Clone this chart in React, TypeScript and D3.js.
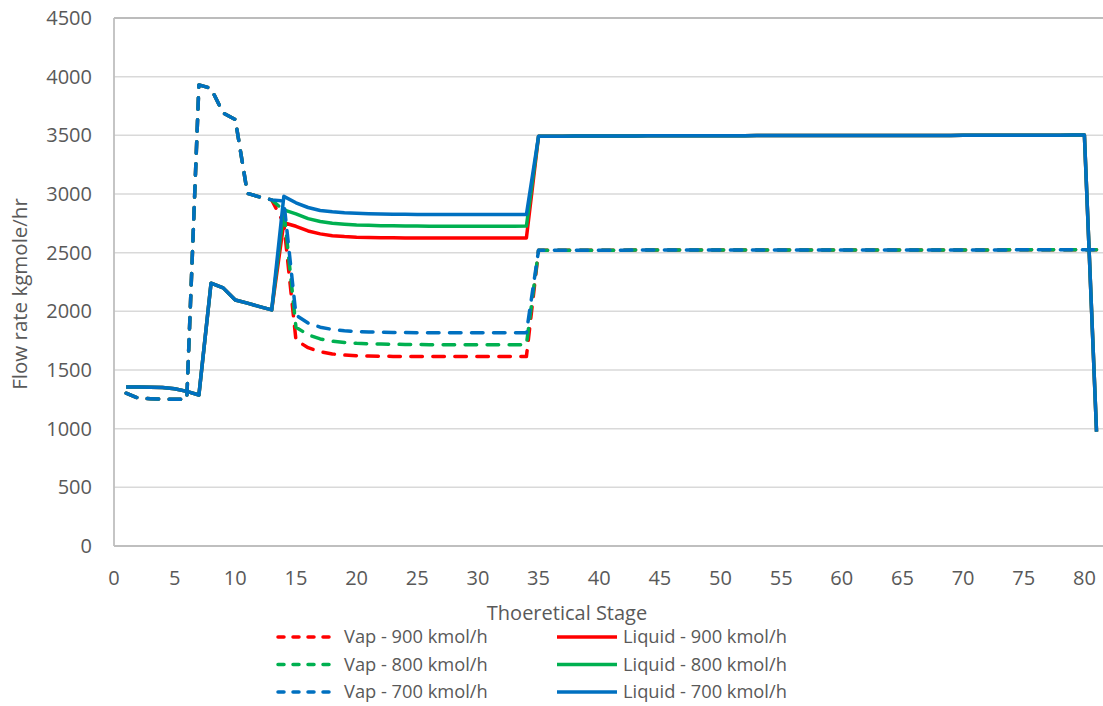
import React from "react";
import * as d3 from "d3";

// Theoretical stages 1..81
const stages: number[] = [
  1, 2, 3, 4, 5, 6, 7, 8, 9, 10, 11, 12, 13, 14, 15, 16, 17, 18, 19, 20,
  21, 22, 23, 24, 25, 26, 27, 28, 29, 30, 31, 32, 33, 34, 35, 36, 37, 38, 39, 40,
  41, 42, 43, 44, 45, 46, 47, 48, 49, 50, 51, 52, 53, 54, 55, 56, 57, 58, 59, 60,
  61, 62, 63, 64, 65, 66, 67, 68, 69, 70, 71, 72, 73, 74, 75, 76, 77, 78, 79, 80, 81,
];

// Stages 1-13 (shared by all feed rates)
const liquidTop: number[] = [1355, 1355, 1353, 1350, 1340, 1318, 1287, 2240, 2200, 2097, 2070, 2040, 2012];
const vapTop: number[] = [1302, 1260, 1255, 1252, 1250, 1250, 3930, 3900, 3690, 3635, 3005, 2975, 2950];

// Stages 14-34
const liquid900Mid: number[] = [2755, 2725, 2685, 2660, 2645, 2637, 2632, 2630, 2628, 2627, 2626, 2625, 2625, 2625, 2626, 2626, 2626, 2626, 2626, 2626, 2626];
const liquid800Mid: number[] = [2865, 2830, 2790, 2765, 2750, 2742, 2736, 2733, 2730, 2729, 2728, 2727, 2726, 2726, 2726, 2726, 2726, 2726, 2726, 2726, 2727];
const liquid700Mid: number[] = [2980, 2925, 2885, 2860, 2848, 2840, 2835, 2832, 2830, 2828, 2827, 2826, 2826, 2826, 2826, 2826, 2826, 2826, 2826, 2826, 2826];
const vap900Mid: number[] = [2750, 1755, 1690, 1655, 1637, 1627, 1622, 1619, 1617, 1616, 1615, 1615, 1615, 1615, 1615, 1615, 1615, 1615, 1615, 1615, 1615];
const vap800Mid: number[] = [2860, 1865, 1800, 1765, 1745, 1735, 1728, 1724, 1721, 1719, 1718, 1717, 1716, 1716, 1716, 1716, 1716, 1716, 1716, 1716, 1716];
const vap700Mid: number[] = [2940, 1968, 1900, 1865, 1845, 1835, 1828, 1824, 1822, 1820, 1819, 1818, 1818, 1818, 1818, 1818, 1818, 1818, 1818, 1818, 1818];

// Stages 35-81
const liquidBottom: number[] = [
  3492, 3493, 3493, 3494, 3494, 3494, 3495, 3495, 3495, 3496, 3496, 3496, 3496, 3497, 3497, 3497,
  3497, 3497, 3498, 3498, 3498, 3498, 3498, 3498, 3498, 3498, 3498, 3499, 3499, 3499, 3499, 3499,
  3499, 3499, 3499, 3500, 3500, 3500, 3500, 3500, 3500, 3501, 3501, 3501, 3502, 3503, 975,
];
const vapBottom: number[] = [
  2520, 2520, 2520, 2521, 2521, 2521, 2521, 2521, 2522, 2522, 2522, 2522, 2522, 2522, 2522, 2522,
  2523, 2523, 2523, 2523, 2523, 2523, 2523, 2523, 2523, 2523, 2523, 2523, 2523, 2523, 2523, 2523,
  2523, 2523, 2523, 2523, 2523, 2523, 2523, 2524, 2524, 2524, 2524, 2524, 2524, 2524, 2524,
];

const vap900 = [...vapTop, ...vap900Mid, ...vapBottom];
const liquid900 = [...liquidTop, ...liquid900Mid, ...liquidBottom];
const vap800 = [...vapTop, ...vap800Mid, ...vapBottom];
const liquid800 = [...liquidTop, ...liquid800Mid, ...liquidBottom];
const vap700 = [...vapTop, ...vap700Mid, ...vapBottom];
const liquid700 = [...liquidTop, ...liquid700Mid, ...liquidBottom];

const seriesNames = [
  "Vap - 900 kmol/h", "Liquid - 900 kmol/h",
  "Vap - 800 kmol/h", "Liquid - 800 kmol/h",
  "Vap - 700 kmol/h", "Liquid - 700 kmol/h",
];
const seriesValues = [vap900, liquid900, vap800, liquid800, vap700, liquid700];
const seriesColors = ["#FF0000", "#FF0000", "#00B050", "#00B050", "#0070C0", "#0070C0"];
const seriesDashed = [true, false, true, false, true, false];

const xTicks = [0, 5, 10, 15, 20, 25, 30, 35, 40, 45, 50, 55, 60, 65, 70, 75, 80];
const yTicks = [0, 500, 1000, 1500, 2000, 2500, 3000, 3500, 4000, 4500];

const W = 1103;
const H = 706;
const FONT = "'Open Sans', 'Noto Sans', sans-serif";
const TXT = "#595959";

export default function App() {
  const x = d3.scaleLinear().domain([0, 82]).range([114, 114 + 82 * 12.13]);
  const y = d3.scaleLinear().domain([0, 4500]).range([546, 18]);
  const line = d3
    .line<number>()
    .x((_, i) => x(stages[i]))
    .y((d) => y(d));

  const left = x(0);
  const right = x(82);

  return (
    <div style={{ position: "absolute", left: 0, top: 0, width: W, height: H, overflow: "hidden", background: "#fff" }}>
      <svg width={W} height={H} style={{ display: "block" }} fontFamily={FONT}>
        <rect x={0} y={0} width={W} height={H} fill="#fff" />
        {/* gridlines */}
        {yTicks.slice(1, -1).map((t) => (
          <line key={"g" + t} x1={left} x2={right} y1={y(t)} y2={y(t)} stroke="#d9d9d9" strokeWidth={1.5} />
        ))}
        {/* plot border */}
        <line x1={left} x2={right} y1={y(4500)} y2={y(4500)} stroke="#a6a6a6" strokeWidth={1.5} />
        <line x1={left} x2={right} y1={y(0)} y2={y(0)} stroke="#bfbfbf" strokeWidth={1.8} />
        <line x1={left} x2={left} y1={y(0)} y2={y(4500)} stroke="#bfbfbf" strokeWidth={1.8} />

        {/* y tick labels */}
        {yTicks.map((t) => (
          <text key={"y" + t} x={92} y={y(t)} dy="0.35em" textAnchor="end" fontSize={20} fill={TXT}>
            {t}
          </text>
        ))}
        {/* x tick labels */}
        {xTicks.map((t) => (
          <text key={"x" + t} x={x(t)} y={578} dy="0.35em" textAnchor="middle" fontSize={20} fill={TXT}>
            {t}
          </text>
        ))}

        {/* axis titles */}
        <text x={567} y={613} dy="0.35em" textAnchor="middle" fontSize={20} fill={TXT}>
          Thoeretical Stage
        </text>
        <text
          transform={`translate(20,${y(2250) + 12}) rotate(-90)`}
          textAnchor="middle"
          dy="0.35em"
          fontSize={20.5}
          fill={TXT}
        >
          Flow rate kgmole/hr
        </text>

        {/* series */}
        {seriesValues.map((vals, i) => (
          <path
            key={"s" + i}
            d={line(vals) || ""}
            fill="none"
            stroke={seriesColors[i]}
            strokeWidth={3.5}
            strokeLinejoin="round"
            strokeLinecap={seriesDashed[i] ? "round" : "butt"}
            strokeDasharray={seriesDashed[i] ? "11.5 10.5" : undefined}
          />
        ))}

        {/* legend */}
        {seriesNames.map((name, i) => {
          const col = i % 2;
          const row = Math.floor(i / 2);
          const ly = 637 + row * 27.5;
          const lx = col === 0 ? 278 : 557;
          return (
            <g key={"l" + i}>
              <line
                x1={lx}
                x2={lx + 60}
                y1={ly}
                y2={ly}
                stroke={seriesColors[i]}
                strokeWidth={3.5}
                strokeLinecap={seriesDashed[i] ? "round" : "butt"}
                strokeDasharray={seriesDashed[i] ? "6 9" : undefined}
              />
              <text x={lx + 66} y={ly} dy="0.35em" fontSize={18.3} fill={TXT}>
                {name}
              </text>
            </g>
          );
        })}
      </svg>
    </div>
  );
}
